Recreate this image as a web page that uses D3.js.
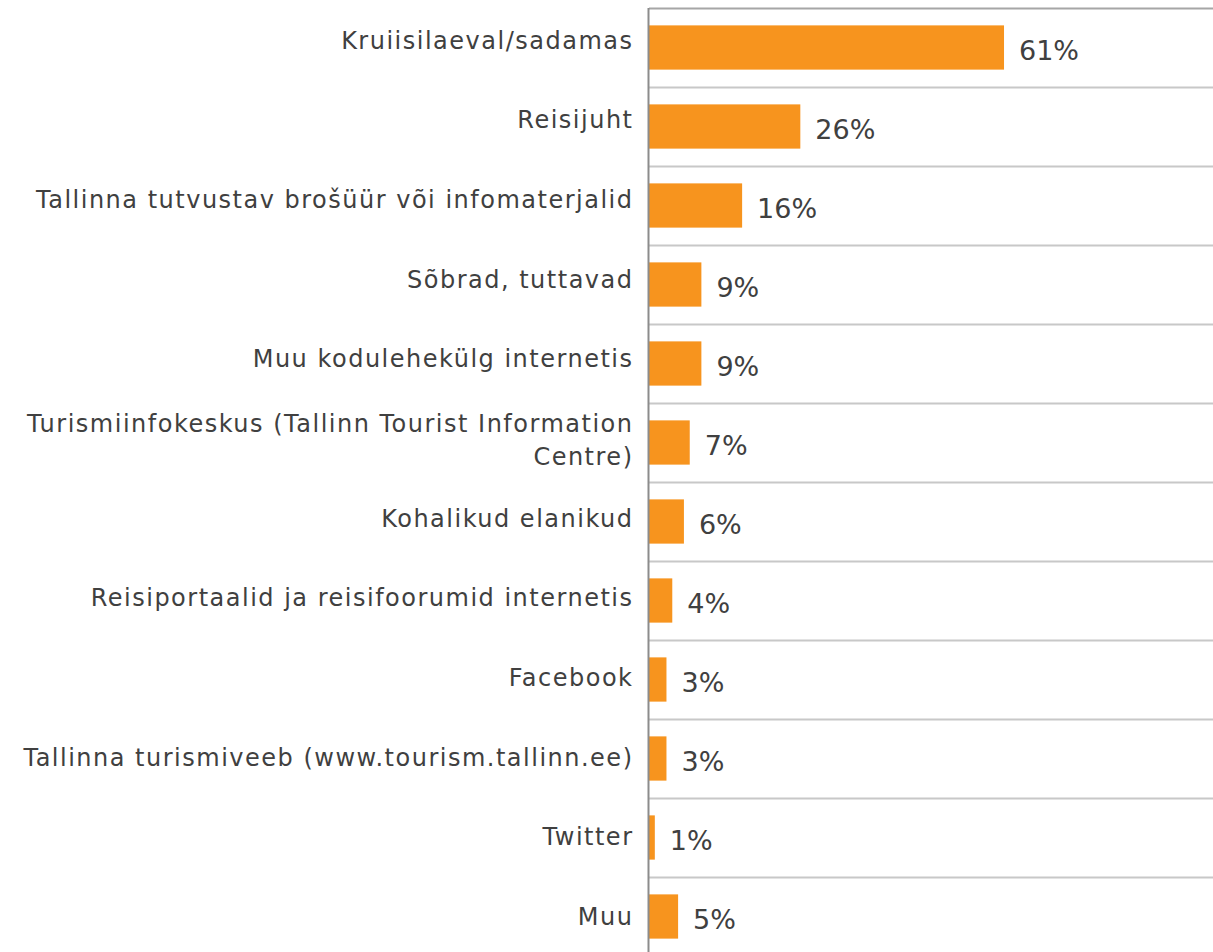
<!DOCTYPE html>
<html>
<head>
<meta charset="utf-8">
<script src="https://cdn.jsdelivr.net/npm/d3@7"></script>
<style>
  body { margin: 0; background: #fff; }
  svg { display: block; }
</style>
</head>
<body>
<div class="chart-container"></div>
<script>
// Data
const categories = [
    ["Kruiisilaeval/sadamas"],
    ["Reisijuht"],
    ["Tallinna tutvustav brošüür või infomaterjalid"],
    ["Sõbrad, tuttavad"],
    ["Muu kodulehekülg internetis"],
    ["Turismiinfokeskus (Tallinn Tourist Information", "Centre)"],
    ["Kohalikud elanikud"],
    ["Reisiportaalid ja reisifoorumid internetis"],
    ["Facebook"],
    ["Tallinna turismiveeb (www.tourism.tallinn.ee)"],
    ["Twitter"],
    ["Muu"]
];
const values = [61, 26, 16, 9, 9, 7, 6, 4, 3, 3, 1, 5];

const w = 1213, h = 952;
const axisX = 649;
const topY = 8;
const band = 79;

const svg = d3.select(".chart-container").append("svg")
    .attr("width", w)
    .attr("height", h);

const yScale = d3.scaleBand()
    .domain(d3.range(categories.length))
    .range([topY, topY + band * categories.length])
    .paddingInner(0.44)
    .paddingOuter(0.22);

// category text baselines drift a little from the bar centres in the original
const catY = d3.scalePoint()
    .domain(d3.range(categories.length))
    .range([48.5, 925]);

const xScale = d3.scaleLinear()
    .domain([0, 100])
    .range([axisX, axisX + 582]);

// Grid lines between categories
const gridYs = d3.range(categories.length + 1).map(i => topY + i * band);
svg.selectAll("line.grid")
    .data(gridYs)
    .enter()
    .append("line")
    .attr("class", "grid")
    .attr("x1", axisX)
    .attr("x2", w)
    .attr("y1", d => d + 0.5)
    .attr("y2", d => d + 0.5)
    .attr("stroke", (d, i) => i === 0 ? "#a6a6a6" : "#c8c8c8")
    .attr("stroke-width", 2);

// Bars
svg.selectAll("rect.bar")
    .data(values)
    .enter()
    .append("rect")
    .attr("class", "bar")
    .attr("x", xScale(0))
    .attr("y", (d, i) => yScale(i))
    .attr("width", d => xScale(d) - xScale(0))
    .attr("height", yScale.bandwidth())
    .attr("fill", "#f7941e");

// Axis line
svg.append("line")
    .attr("x1", axisX - 0.5)
    .attr("x2", axisX - 0.5)
    .attr("y1", topY)
    .attr("y2", h)
    .attr("stroke", "#8c8c8c")
    .attr("stroke-width", 2);

// Value labels
svg.selectAll("text.value")
    .data(values)
    .enter()
    .append("text")
    .attr("class", "value")
    .attr("x", d => xScale(d) + 15)
    .attr("y", (d, i) => yScale(i) + yScale.bandwidth() / 2 + 12)
    .attr("font-family", "DejaVu Sans, Verdana, sans-serif")
    .attr("font-size", 27)
    .attr("fill", "#404040")
    .text(d => d + "%");

// Category labels
const labels = svg.selectAll("text.cat")
    .data(categories)
    .enter()
    .append("text")
    .attr("class", "cat")
    .attr("text-anchor", "end")
    .attr("font-family", "DejaVu Sans, Verdana, sans-serif")
    .attr("font-size", 24)
    .attr("letter-spacing", "1.5px")
    .attr("fill", "#404040");

labels.each(function(lines, i) {
    const lineH = 33;
    const start = catY(i) - (lines.length - 1) * 15;
    d3.select(this).selectAll("tspan")
        .data(lines)
        .enter()
        .append("tspan")
        .attr("x", 633.5)
        .attr("y", (d, j) => start + j * lineH)
        .text(d => d);
});
</script>
</body>
</html>
